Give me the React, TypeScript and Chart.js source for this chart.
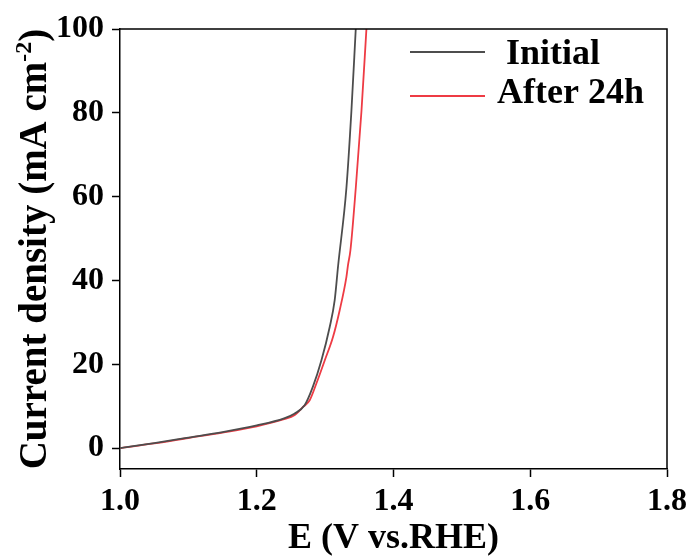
import React, { useEffect, useRef } from "react";
import { Chart, registerables } from "chart.js";

Chart.register(...registerables);

const seriesNames = ["Initial", "After 24h"];
const seriesColors = ["#4d4d4d", "#ee3b44"];

const initialE = [1.0, 1.05, 1.1, 1.15, 1.2, 1.24, 1.255, 1.27, 1.282, 1.2945, 1.3067, 1.314, 1.319, 1.3311, 1.3384, 1.3448];
const initialJ = [0, 1.2, 2.5, 3.8, 5.4, 7.1, 8.2, 10.2, 14.6, 20.9, 28.9, 35.3, 43.5, 62, 80.3, 100];

const afterE = [1.0, 1.05, 1.1, 1.15, 1.2, 1.24, 1.255, 1.2676, 1.2774, 1.2872, 1.2994, 1.3115, 1.3213, 1.3311, 1.3335, 1.337, 1.3448, 1.3531, 1.3604];
const afterJ = [0, 1.1, 2.4, 3.7, 5.2, 6.9, 7.8, 9.8, 11.4, 15.4, 20.9, 26.5, 32.9, 40.8, 43.7, 47.2, 62, 80.3, 100];

const xTicks = [1.0, 1.2, 1.4, 1.6, 1.8];
const yTicks = [0, 20, 40, 60, 80, 100];

const xTitle = "E (V vs.RHE)";
const yTitleMain = "Current density (mA cm";
const yTitleSup = "-2";
const yTitleEnd = ")";

const FONT = "'Liberation Serif', 'Times New Roman', serif";

const decorPlugin = {
  id: "decor",
  afterDraw(chart: any) {
    const ctx = chart.ctx;
    const a = chart.chartArea;
    ctx.save();
    // top and right frame
    ctx.strokeStyle = "#000";
    ctx.lineWidth = 1.5;
    ctx.beginPath();
    ctx.moveTo(a.left, a.top);
    ctx.lineTo(a.right, a.top);
    ctx.lineTo(a.right, a.bottom);
    ctx.stroke();

    // legend
    const ds = chart.data.datasets;
    const rowsY = [52, 96];
    const baseY = [64, 103];
    const textX = [506, 497];
    ctx.font = "bold 36px " + FONT;
    ctx.textBaseline = "alphabetic";
    ctx.textAlign = "left";
    ds.forEach((d: any, i: number) => {
      ctx.strokeStyle = d.borderColor;
      ctx.lineWidth = 1.8;
      ctx.beginPath();
      ctx.moveTo(410, rowsY[i]);
      ctx.lineTo(485, rowsY[i]);
      ctx.stroke();
      ctx.fillStyle = "#000";
      ctx.fillText(d.label, textX[i], baseY[i]);
    });

    // x title
    ctx.fillStyle = "#000";
    ctx.font = "bold 36px " + FONT;
    ctx.textAlign = "center";
    ctx.fillText(xTitle, (a.left + a.right) / 2, 548);

    // y title with superscript
    const mainFont = "bold 39px " + FONT;
    const supFont = "bold 24px " + FONT;
    ctx.font = mainFont;
    const w1 = ctx.measureText(yTitleMain).width;
    const w3 = ctx.measureText(yTitleEnd).width;
    ctx.font = supFont;
    const w2 = ctx.measureText(yTitleSup).width;
    const total = w1 + w2 + w3;
    ctx.translate(46, (a.top + a.bottom) / 2);
    ctx.rotate(-Math.PI / 2);
    ctx.textAlign = "left";
    let x0 = -total / 2;
    ctx.font = mainFont;
    ctx.fillText(yTitleMain, x0, 0);
    x0 += w1;
    ctx.font = supFont;
    ctx.fillText(yTitleSup, x0, -15);
    x0 += w2;
    ctx.font = mainFont;
    ctx.fillText(yTitleEnd, x0, 0);
    ctx.restore();
  },
};

export default function App() {
  const ref = useRef<HTMLCanvasElement | null>(null);
  useEffect(() => {
    document.body.style.margin = "0";
    const canvas = ref.current;
    if (!canvas) return;
    const chart = new Chart(canvas, {
      type: "line",
      data: {
        datasets: [
          {
            label: seriesNames[0],
            data: initialE.map((x, i) => ({ x, y: initialJ[i] })),
            borderColor: seriesColors[0],
            backgroundColor: seriesColors[0],
            borderWidth: 1.8,
            pointRadius: 0,
            cubicInterpolationMode: "monotone",
          },
          {
            label: seriesNames[1],
            data: afterE.map((x, i) => ({ x, y: afterJ[i] })),
            borderColor: seriesColors[1],
            backgroundColor: seriesColors[1],
            borderWidth: 1.8,
            pointRadius: 0,
            cubicInterpolationMode: "monotone",
          },
        ],
      },
      options: {
        animation: false,
        responsive: false,
        maintainAspectRatio: false,
        layout: { padding: { top: 29, right: 28, left: 0, bottom: 0 } },
        plugins: { legend: { display: false }, tooltip: { enabled: false } },
        scales: {
          x: {
            type: "linear",
            min: 1.0,
            max: 1.8,
            afterBuildTicks: (s: any) => {
              s.ticks = xTicks.map((v) => ({ value: v }));
            },
            afterFit: (s: any) => {
              s.height = 89;
            },
            grid: { drawOnChartArea: false, drawTicks: true, tickLength: 8, tickColor: "#000", tickWidth: 1.5 },
            border: { display: true, color: "#000", width: 1.5 },
            ticks: {
              color: "#000",
              padding: 6,
              maxRotation: 0,
              font: { family: FONT, size: 32, weight: "bold" },
              callback: (v: any) => Number(v).toFixed(1),
            },
          },
          y: {
            type: "linear",
            min: -5,
            max: 100,
            afterBuildTicks: (s: any) => {
              s.ticks = yTicks.map((v) => ({ value: v }));
            },
            afterFit: (s: any) => {
              s.width = 120;
            },
            grid: { drawOnChartArea: false, drawTicks: true, tickLength: 8, tickColor: "#000", tickWidth: 1.5 },
            border: { display: true, color: "#000", width: 1.5 },
            ticks: {
              color: "#000",
              padding: 8,
              font: { family: FONT, size: 32, weight: "bold" },
              callback: (v: any) => String(v),
            },
          },
        },
      } as any,
      plugins: [decorPlugin],
    });
    return () => chart.destroy();
  }, []);
  return (
    <div style={{ position: "relative", width: 695, height: 558, background: "#fff" }}>
      <canvas ref={ref} width={695} height={558} style={{ display: "block" }} />
    </div>
  );
}
